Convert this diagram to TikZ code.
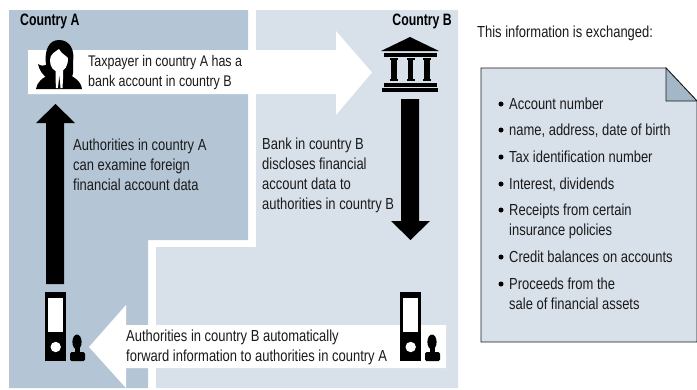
\documentclass[tikz,border=0pt]{standalone}
\usepackage{fontspec}
\setmainfont[FakeStretch=0.81,BoldFeatures={FakeStretch=0.745}]{Liberation Sans}
\definecolor{panelA}{HTML}{B4C6D5}
\definecolor{panelB}{HTML}{D8E0EA}
\definecolor{foldc}{HTML}{A3B7C7}
\definecolor{inkc}{HTML}{1A1A1A}
\tikzset{
  x=1pt,y=-1pt,
  lbl/.style={anchor=north west,inner sep=0pt,align=left,text=inkc,font=\fontsize{16}{20}\selectfont},
  head/.style={inner sep=0pt,text=black,font=\fontsize{16.5}{18}\selectfont\bfseries},
  blockarrow/.style={fill=black,draw=none},
  whitearrow/.style={fill=white,draw=none},
  item/.style={lbl},
  dot/.style={circle,fill=black,inner sep=0pt,minimum size=5pt}
}
\newcommand{\binder}[2]{%
  \fill[black] (#1,#2) rectangle ++(21,69);
  \fill[white] (#1+3,#2+6) rectangle ++(15,34);
  \fill[white] (#1+10.7,#2+55) circle (5.2);
  \fill[black] (#1+32,#2+50) ellipse (4.6 and 7.5);
  \fill[black] (#1+29.5,#2+55) rectangle ++(5,7);
  \fill[black,rounded corners=1.5pt] (#1+25,#2+60) rectangle ++(15,9);
}
\begin{document}
\begin{tikzpicture}
\useasboundingbox (0,0) rectangle (697,389);
\fill[white] (0,0) rectangle (697,389);
% panels
\fill[panelA] (9,10) -- (248,10) -- (248,240) -- (148,240) -- (148,388) -- (9,388) -- cycle;
\fill[panelB] (256,10) -- (458,10) -- (458,388) -- (156,388) -- (156,247) -- (256,247) -- cycle;
% white arrows
\fill[whitearrow] (28,50) -- (336,50) -- (336,31) -- (372,72.5) -- (336,115) -- (336,94) -- (28,94) -- cycle;
\fill[whitearrow] (446,325) -- (126,325) -- (126,305) -- (89,347) -- (126,388) -- (126,368) -- (446,368) -- cycle;
% black arrows
\fill[blockarrow] (46,284) -- (46,123) -- (36,123) -- (55.5,104) -- (75,123) -- (64,123) -- (64,284) -- cycle;
\fill[blockarrow] (401,99) -- (419,99) -- (419,221) -- (430,221) -- (410.5,240) -- (391,221) -- (401,221) -- cycle;
% woman
\fill[black] (36,89) .. controls (37,82) and (42,78) .. (52,73) -- (66,73) .. controls (74,77) and (81,81) .. (82,89) -- cycle;
\fill[black] (47,78) .. controls (43,75) and (39,70) .. (38,64) .. controls (41,66) and (44,66) .. (46,65)
  .. controls (44,50) and (49,40) .. (59,40) .. controls (70,40) and (75,50) .. (73,62)
  .. controls (73,68) and (74,72) .. (72,77) -- (54,80) -- cycle;
\fill[white] (50,60) .. controls (50,54) and (55,52) .. (59,49) .. controls (61,53) and (65,55) .. (68,58)
  .. controls (68,66) and (65,71) .. (59,72) .. controls (53,71) and (50,67) .. (50,60) -- cycle;
\fill[white] (55.5,70) -- (63,70) -- (63,79) -- (62.5,88) -- (56,88) -- (55.5,79) -- cycle;
\fill[black] (59.3,76) -- (60.5,88) -- (58,88) -- cycle;
% bank
\fill[black] (410,37) -- (439,51) -- (381,51) -- cycle;
\fill[black] (384,53) rectangle (437,57);
\foreach \c in {394,410.5,427}{
  \fill[black] (\c-4,58) rectangle (\c+4,60);
  \fill[black] (\c-2.8,60) rectangle (\c+2.8,79);
  \fill[black] (\c-4,79) rectangle (\c+4,81);
}
\fill[black] (384,83) rectangle (437,87);
\fill[black] (382,88) rectangle (438,92);
% binders
\binder{45}{292}
\binder{400}{292}
% note
\draw[draw=inkc,line width=0.8pt,fill=panelB] (481,342) -- (481,68) -- (666,68) -- (697,101) -- (697,342) -- cycle;
\draw[draw=inkc,line width=0.8pt,fill=foldc] (666,68) -- (697,101) -- (666,101) -- cycle;
% texts
\node[head,anchor=west] (ca) at (20,21) {Country A};
\node[head,anchor=east] (cb) at (452,21) {Country B};
\node[lbl,font=\fontsize{15.4}{20}\selectfont] (t1) at (88,55.5) {Taxpayer in country A has a\\bank account in country B};
\node[lbl] (t2) at (73,139) {Authorities in country A\\can examine foreign\\financial account data};
\node[lbl] (t3) at (262,137.5) {Bank in country B\\discloses financial\\account data to\\authorities in country B};
\node[lbl] (t4) at (126,330) {Authorities in country B automatically\\forward information to authorities in country A};
\node[lbl] (t5) at (477,25.5) {This information is exchanged:};
\node[item] (i1) at (509,98) {Account number};
\node[item] (i2) at (509,124) {name, address, date of birth};
\node[item] (i3) at (509,151) {Tax identification number};
\node[item] (i4) at (509,177.5) {Interest, dividends};
\node[item] (i5) at (509,204) {Receipts from certain\\insurance policies};
\node[item] (i6) at (509,251) {Credit balances on accounts};
\node[item] (i7) at (509,278) {Proceeds from the\\sale of financial assets};
\foreach \y [count=\i] in {104,130,157,184,210,257,284}
  \node[dot] (b\i) at (501,\y) {};
\end{tikzpicture}
\end{document}
